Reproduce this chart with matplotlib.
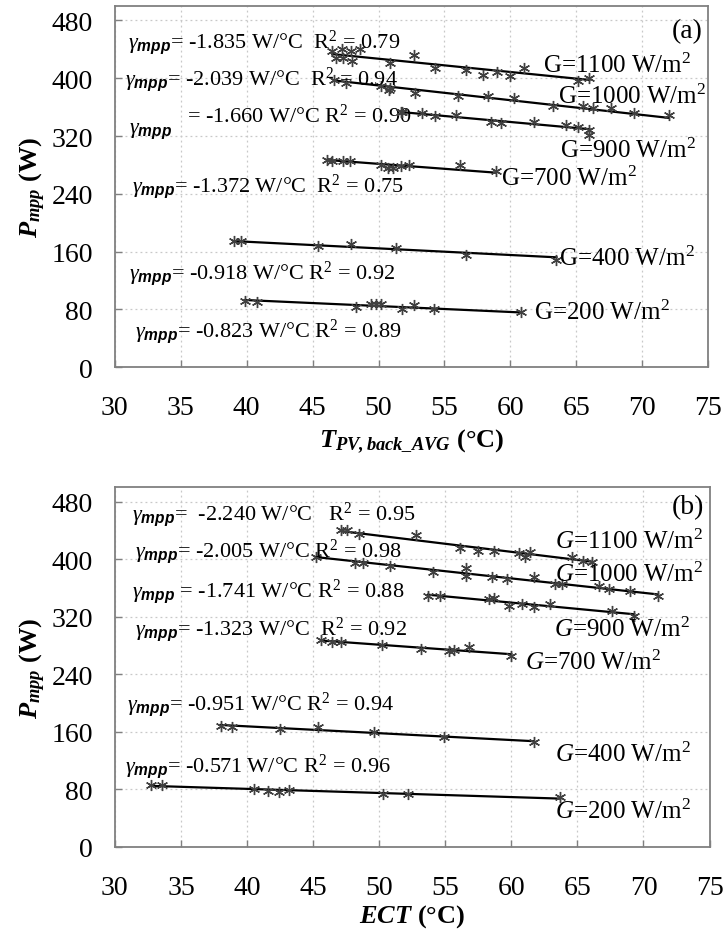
import numpy as np
import matplotlib
matplotlib.use("Agg")
import matplotlib.pyplot as plt

plt.rcParams['font.family'] = ['Liberation Serif', 'DejaVu Serif']
plt.rcParams['mathtext.fontset'] = 'custom'
plt.rcParams['mathtext.rm'] = 'Liberation Serif'
plt.rcParams['mathtext.it'] = 'Liberation Serif:italic'
plt.rcParams['mathtext.bf'] = 'Liberation Serif:bold:italic'
plt.rcParams['mathtext.sf'] = 'Liberation Sans:bold:italic'

# ---------------- data: panel (a) T_PV,back_AVG ----------------
a_1100_x = [46.5, 47.2, 47.9, 48.6, 46.8, 47.3, 48.0, 50.9, 52.7, 54.3, 56.6, 57.9, 59.0, 60.0, 61.0, 65.1, 66.0]
a_1100_y = [438, 440, 438, 440, 428, 428, 424, 421, 432, 414, 411, 404, 408, 403, 414, 396, 400]
a_1000_x = [46.6, 47.5, 50.2, 50.8, 50.9, 52.8, 56.0, 58.3, 60.3, 63.2, 65.5, 66.3, 67.6, 69.4, 72.0]
a_1000_y = [397, 393, 389, 384, 386, 379, 375, 375, 372, 361, 361, 359, 359, 352, 349]
a_900_x = [51.7, 51.8, 53.3, 54.3, 55.9, 58.5, 59.3, 61.8, 64.2, 65.1, 66.0, 66.0]
a_900_y = [354, 354, 352, 348, 349, 340, 338, 340, 335, 333, 329, 322]
a_700_x = [46.1, 46.5, 47.3, 47.8, 50.2, 50.7, 51.1, 51.7, 52.3, 56.2, 58.9]
a_700_y = [287, 286, 285, 285, 280, 276, 276, 279, 280, 280, 271]
a_400_x = [39.0, 39.6, 45.4, 47.9, 51.3, 56.6, 63.5]
a_400_y = [175, 175, 168, 170, 165, 156, 149]
a_200_x = [39.9, 40.8, 48.3, 49.4, 49.8, 50.2, 51.8, 52.7, 54.2, 60.8]
a_200_y = [92, 91, 83, 87, 87, 87, 80, 86, 80, 76]

a_gamma = [-1.835, -2.039, -1.660, -1.372, -0.918, -0.823]
a_r2 = [0.79, 0.94, 0.90, 0.75, 0.92, 0.89]
a_G = [1100, 1000, 900, 700, 400, 200]

# ---------------- data: panel (b) ECT ----------------
b_1100_x = [47.1, 47.6, 48.5, 52.8, 56.1, 57.5, 58.7, 60.6, 61.0, 61.4, 64.6, 65.4, 66.1]
b_1100_y = [440, 440, 435, 433, 415, 412, 412, 408, 403, 410, 403, 398, 396]
b_1000_x = [45.2, 48.2, 48.8, 50.8, 54.1, 56.6, 56.6, 58.5, 59.7, 61.7, 63.3, 63.8, 66.6, 67.4, 69.0, 71.1]
b_1000_y = [403, 395, 394, 391, 382, 387, 377, 375, 373, 375, 366, 365, 362, 359, 356, 349]
b_900_x = [53.7, 54.6, 58.3, 58.7, 59.8, 60.8, 61.7, 62.9, 67.6, 69.3]
b_900_y = [349, 349, 345, 346, 335, 338, 334, 338, 328, 321]
b_700_x = [45.6, 46.4, 47.1, 50.2, 53.2, 55.3, 55.7, 56.8, 60.0]
b_700_y = [287, 285, 285, 280, 275, 273, 274, 278, 266]
b_400_x = [38.0, 38.9, 42.5, 45.4, 49.6, 54.9, 61.7]
b_400_y = [168, 167, 164, 167, 160, 153, 146]
b_200_x = [32.7, 33.6, 40.5, 41.6, 42.4, 43.2, 50.3, 52.2, 63.7]
b_200_y = [86, 86, 81, 78, 76, 79, 74, 74, 70]

b_gamma = [-2.240, -2.005, -1.741, -1.323, -0.951, -0.571]
b_r2 = [0.95, 0.98, 0.88, 0.92, 0.94, 0.96]
b_G = [1100, 1000, 900, 700, 400, 200]

x_ticks = [30, 35, 40, 45, 50, 55, 60, 65, 70, 75]
y_ticks = [0, 80, 160, 240, 320, 400, 480]

a_series = [(a_1100_x, a_1100_y), (a_1000_x, a_1000_y), (a_900_x, a_900_y),
            (a_700_x, a_700_y), (a_400_x, a_400_y), (a_200_x, a_200_y)]
b_series = [(b_1100_x, b_1100_y), (b_1000_x, b_1000_y), (b_900_x, b_900_y),
            (b_700_x, b_700_y), (b_400_x, b_400_y), (b_200_x, b_200_y)]

# annotation positions (data coords)
a_ann_pos = [(31.0, 451), (30.8, 400), (31.1, 335), (31.3, 252), (31.1, 131), (31.5, 51)]
a_lab_pos = [(62.5, 418), (63.6, 375), (63.8, 301), (59.3, 262), (63.7, 152), (61.8, 76)]
b_ann_pos = [(31.3, 463), (31.5, 412), (31.3, 356), (31.5, 303), (30.9, 199), (30.8, 113)]
b_lab_pos = [(63.3, 426), (63.3, 380), (63.2, 303), (61.0, 257), (63.3, 129), (63.3, 50)]

DEG = '\u00b0'

fig = plt.figure(figsize=(7.27, 9.37), dpi=100)
ax1 = fig.add_axes([0.158, 0.607, 0.816, 0.3855])
ax2 = fig.add_axes([0.158, 0.095, 0.818, 0.384])

FS_TICK = 20
FS_ANN = 16
FS_G = 18
marker = (6, 2, 0)


def style(ax):
    ax.set_xlim(30, 75)
    ax.set_ylim(0, 500)
    ax.set_xticks(x_ticks)
    ax.set_yticks(y_ticks)
    ax.tick_params(direction='in', length=5, width=1, color='#808080',
                   labelsize=FS_TICK)
    ax.tick_params(axis='y', pad=16)
    ax.tick_params(axis='x', pad=20)
    ax.grid(True, linestyle=(0, (1.5, 2.5)), color='#c8c8c8', linewidth=0.9)
    ax.set_axisbelow(True)
    for s in ax.spines.values():
        s.set_color('#808080')
        s.set_linewidth(1.3)


def draw(ax, series, gammas):
    for (xs, ys), g in zip(series, gammas):
        xs = np.asarray(xs, float)
        ys = np.asarray(ys, float)
        xm, ym = xs.mean(), ys.mean()
        xl = np.array([xs.min(), xs.max()])
        ax.plot(xl, ym + g * (xl - xm), color='black', lw=1.6, zorder=3)
        ax.plot(xs, ys, linestyle='none', marker=marker, markersize=8,
                markeredgewidth=1.0, color='#404040', zorder=4)


style(ax1)
draw(ax1, a_series, a_gamma)
gm = r'$\gamma_{\mathsf{mpp}}$'
unit = ' W/' + DEG + 'C'
txt_a = [gm + '= -1.835' + unit + '  R$^2$ = 0.79',
         gm + '= -2.039' + unit + '  R$^2$ = 0.94',
         None,
         gm + '= -1.372' + unit + '  R$^2$ = 0.75',
         gm + '= -0.918' + unit + ' R$^2$ = 0.92',
         gm + '= -0.823' + unit + ' R$^2$ = 0.89']
for t, (x, y) in zip(txt_a, a_ann_pos):
    if t is not None:
        ax1.text(x, y, t, fontsize=FS_ANN, va='center', ha='left', zorder=5)
# third annotation: gamma sits lower than the value text
ax1.text(a_ann_pos[2][0], a_ann_pos[2][1] - 7, gm, fontsize=FS_ANN, va='center', ha='left')
ax1.text(35.5, 349, '= -1.660' + unit + ' R$^2$ = 0.90', fontsize=FS_ANN, va='center', ha='left')
for G, (x, y) in zip(a_G, a_lab_pos):
    ax1.text(x, y, 'G=%d W/m$^2$' % G, fontsize=FS_G, va='center', ha='left', zorder=5)
ax1.text(74.6, 466, '(a)', fontsize=20, ha='right', va='center')
ax1.set_ylabel(r'$\mathbf{P_{mpp}}$ (W)', fontsize=19, fontweight='bold', labelpad=2)
ax1.set_xlabel(r'$\mathbf{T_{PV,back\_AVG}}$ (' + DEG + 'C)', fontsize=19,
               fontweight='bold', labelpad=5)

style(ax2)
draw(ax2, b_series, b_gamma)
txt_b = [gm + '=  -2.240' + unit + '   R$^2$ = 0.95',
         gm + '= -2.005' + unit + ' R$^2$ = 0.98',
         gm + ' = -1.741' + unit + ' R$^2$ = 0.88',
         gm + '= -1.323' + unit + '  R$^2$ = 0.92',
         gm + '= -0.951' + unit + ' R$^2$ = 0.94',
         gm + '= -0.571' + unit + ' R$^2$ = 0.96']
for t, (x, y) in zip(txt_b, b_ann_pos):
    ax2.text(x, y, t, fontsize=FS_ANN, va='center', ha='left', zorder=5)
for G, (x, y) in zip(b_G, b_lab_pos):
    ax2.text(x, y, r'$G$' + '=%d W/m$^2$' % G, fontsize=FS_G, va='center', ha='left', zorder=5)
ax2.text(74.6, 473, '(b)', fontsize=20, ha='right', va='center')
ax2.set_ylabel(r'$\mathbf{P_{mpp}}$ (W)', fontsize=19, fontweight='bold', labelpad=2)
ax2.set_xlabel(r'$\mathbf{ECT}$ (' + DEG + 'C)', fontsize=19, fontweight='bold', labelpad=2)

fig.savefig('out.png', dpi=100)
